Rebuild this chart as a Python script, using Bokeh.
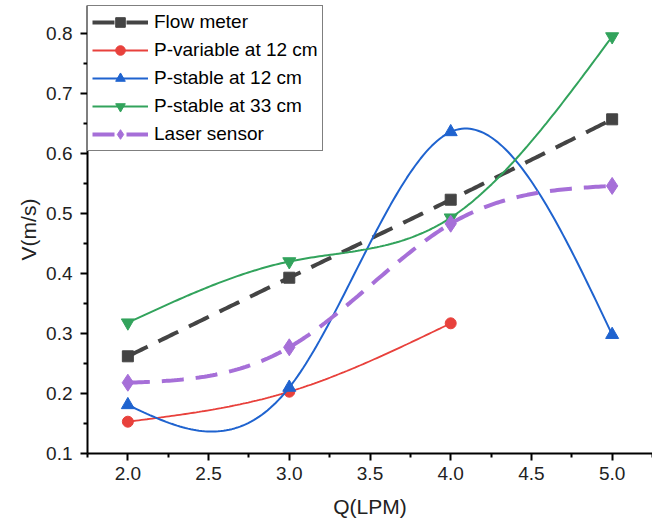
import numpy as np
from bokeh.plotting import figure
from bokeh.models import Range1d, FixedTicker, Legend, LegendItem, NumeralTickFormatter
from bokeh.embed import file_html
from bokeh.resources import INLINE

# ---- data ----
q_flow = [2.0, 3.0, 4.0, 5.0]
v_flow = [0.262, 0.393, 0.523, 0.657]

q_pvar12 = [2.0, 3.0, 4.0]
v_pvar12 = [0.153, 0.203, 0.317]

q_pst12 = [2.0, 3.0, 4.0, 5.0]
v_pst12 = [0.181, 0.210, 0.636, 0.298]

q_pst33 = [2.0, 3.0, 4.0, 5.0]
v_pst33 = [0.318, 0.420, 0.493, 0.795]

q_laser = [2.0, 3.0, 4.0, 5.0]
v_laser = [0.218, 0.277, 0.483, 0.546]

x_ticks = [2.0, 2.5, 3.0, 3.5, 4.0, 4.5, 5.0]
y_ticks = [0.1, 0.2, 0.3, 0.4, 0.5, 0.6, 0.7, 0.8]

FONT = "'Liberation Sans', Arial, sans-serif"


def natural_spline(xs, ys, n=60):
    """Smooth connecting curve (natural cubic spline) through data points."""
    x = np.asarray(xs, float)
    y = np.asarray(ys, float)
    m = len(x)
    h = np.diff(x)
    A = np.zeros((m, m))
    b = np.zeros(m)
    A[0, 0] = 1
    A[-1, -1] = 1
    for i in range(1, m - 1):
        A[i, i - 1] = h[i - 1]
        A[i, i] = 2 * (h[i - 1] + h[i])
        A[i, i + 1] = h[i]
        b[i] = 6 * ((y[i + 1] - y[i]) / h[i] - (y[i] - y[i - 1]) / h[i - 1])
    M = np.linalg.solve(A, b)
    xx, yy = [], []
    for i in range(m - 1):
        t = np.linspace(0, 1, n)
        xi = x[i] + t * h[i]
        a = 1 - t
        s = (a * y[i] + t * y[i + 1]
             + h[i] ** 2 / 6 * (M[i] * (a ** 3 - a) + M[i + 1] * (t ** 3 - t)))
        xx.extend(xi.tolist())
        yy.extend(s.tolist())
    return xx, yy


W, H = 652, 525
p = figure(width=W, height=H, output_backend="svg", toolbar_location=None,
           x_range=Range1d(1.75, 5.25), y_range=Range1d(0.1, 0.8467),
           min_border_left=87, min_border_right=0, min_border_top=5,
           min_border_bottom=72)
p.outline_line_color = None
p.grid.visible = False
p.background_fill_color = "white"

series = [
    ("Flow meter", q_flow, v_flow, "#444444", "square", 11, "dashed", 4),
    ("P-variable at 12 cm", q_pvar12, v_pvar12, "#e8413c", "circle", 11, "solid", 1.8),
    ("P-stable at 12 cm", q_pst12, v_pst12, "#1f63cf", "triangle", 13, "solid", 2),
    ("P-stable at 33 cm", q_pst33, v_pst33, "#32a35c", "inverted_triangle", 13, "solid", 2),
    ("Laser sensor", q_laser, v_laser, "#a66fd8", "diamond", 17, "dashed", 4),
]

items = []
for name, xs, ys, col, mk, sz, dash, lw in series:
    sx, sy = natural_spline(xs, ys)
    dash_str = "22 12" if dash == "dashed" else "solid"
    r_line = p.line(sx, sy, line_color=col, line_width=lw, line_dash=dash_str)
    r_mk = p.scatter(xs, ys, marker=mk, size=sz, fill_color=col, line_color=col)
    items.append(LegendItem(label=name, renderers=[r_line, r_mk]))

legend = Legend(items=items, location="top_left", margin=0, padding=4,
                spacing=4, glyph_width=56, glyph_height=24, label_height=24,
                label_standoff=6, label_text_font=FONT,
                label_text_font_size="19px", label_text_color="black",
                border_line_color="black", border_line_width=1.5,
                background_fill_alpha=1.0)
p.add_layout(legend)

for ax in (p.xaxis[0], p.yaxis[0]):
    ax.axis_line_width = 2
    ax.axis_line_color = "black"
    ax.major_tick_line_width = 2
    ax.minor_tick_line_width = 2
    ax.major_tick_out = 7
    ax.major_tick_in = 0
    ax.minor_tick_out = 4
    ax.minor_tick_in = 0
    ax.major_label_text_font = FONT
    ax.major_label_text_font_size = "19px"
    ax.major_label_text_color = "#222222"
    ax.axis_label_text_font = FONT
    ax.axis_label_text_font_size = "21px"
    ax.axis_label_text_font_style = "normal"
    ax.axis_label_text_color = "#222222"
    ax.formatter = NumeralTickFormatter(format="0.0")

p.xaxis.ticker = FixedTicker(ticks=x_ticks,
                             minor_ticks=[v + 0.25 for v in x_ticks] + [1.75])
p.yaxis.ticker = FixedTicker(ticks=y_ticks,
                             minor_ticks=[round(v + 0.05, 2) for v in y_ticks])
p.xaxis.axis_label = "Q(LPM)"
p.yaxis.axis_label = "V(m/s)"
p.xaxis.major_label_standoff = 6
p.yaxis.major_label_standoff = 8
p.xaxis.axis_label_standoff = 12
p.yaxis.axis_label_standoff = 3

open("out.html", "w").write(file_html(p, INLINE))
